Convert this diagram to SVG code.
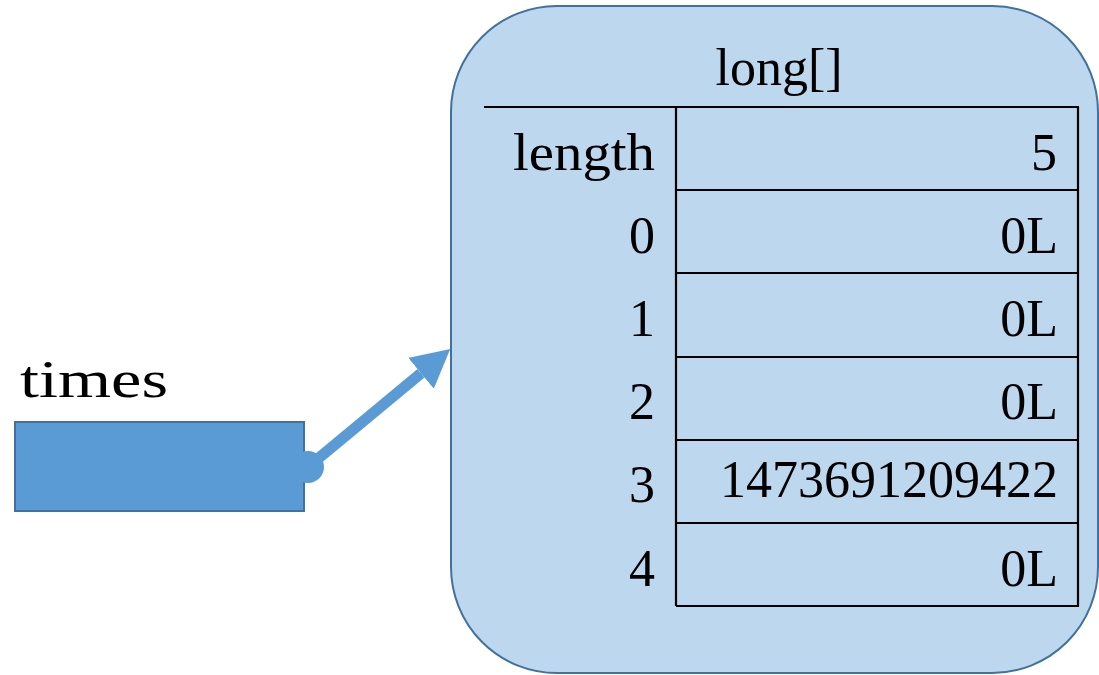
<svg xmlns="http://www.w3.org/2000/svg" width="1099" height="675" viewBox="0 0 1099 675">
  <style>
    .txt { font-family: "Liberation Serif", "Times New Roman", serif; font-size: 52px; fill: #000; }
    .idx { text-anchor: end; }
    .val { text-anchor: end; }
    .grid { stroke: #000; stroke-width: 2.2; fill: none; }
    .obj { fill: #BDD7EE; stroke: #41719C; stroke-width: 2; }
    .var { fill: #5B9BD5; stroke: #41719C; stroke-width: 2; }
  </style>
  <defs>
    <marker id="arrowhead" markerUnits="userSpaceOnUse" viewBox="0 0 38 40" refX="0" refY="20" markerWidth="38" markerHeight="40" orient="auto">
      <path d="M0,0 L38,20 L0,40 z" fill="#5B9BD5"/>
    </marker>
  </defs>

  <!-- array object -->
  <g id="array-long">
    <rect class="obj" x="451" y="6" width="647" height="667" rx="106" ry="106"/>
    <text class="txt" x="779" y="85" text-anchor="middle">long[]</text>
    <line class="grid" x1="484" y1="107" x2="1079" y2="107"/>
    <line class="grid" x1="676" y1="107" x2="676" y2="606"/>
    <line class="grid" x1="1078" y1="107" x2="1078" y2="606"/>
    <line class="grid" x1="676" y1="190" x2="1079" y2="190"/>
    <line class="grid" x1="676" y1="273" x2="1079" y2="273"/>
    <line class="grid" x1="676" y1="357" x2="1079" y2="357"/>
    <line class="grid" x1="676" y1="440" x2="1079" y2="440"/>
    <line class="grid" x1="676" y1="523" x2="1079" y2="523"/>
    <line class="grid" x1="676" y1="606" x2="1079" y2="606"/>

    <text class="txt idx" x="655" y="170" textLength="142" lengthAdjust="spacingAndGlyphs">length</text>
    <text class="txt idx" x="655" y="253">0</text>
    <text class="txt idx" x="655" y="336">1</text>
    <text class="txt idx" x="655" y="419">2</text>
    <text class="txt idx" x="655" y="502">3</text>
    <text class="txt idx" x="655" y="586">4</text>

    <text class="txt val" x="1057" y="170">5</text>
    <text class="txt val" x="1058" y="253">0L</text>
    <text class="txt val" x="1058" y="336">0L</text>
    <text class="txt val" x="1058" y="419">0L</text>
    <text class="txt val" x="1058" y="497">1473691209422</text>
    <text class="txt val" x="1058" y="586">0L</text>
  </g>

  <!-- reference variable -->
  <g id="var-times">
    <text class="txt" x="20" y="397" font-size="64" textLength="148" lengthAdjust="spacingAndGlyphs">times</text>
    <rect class="var" x="15" y="422" width="289" height="89"/>
  </g>

  <!-- reference arrow -->
  <g id="connectors">
    <line x1="308" y1="467" x2="421" y2="373.3" stroke="#5B9BD5" stroke-width="11" marker-end="url(#arrowhead)"/>
    <circle cx="308" cy="467" r="16" fill="#5B9BD5"/>
  </g>
</svg>
